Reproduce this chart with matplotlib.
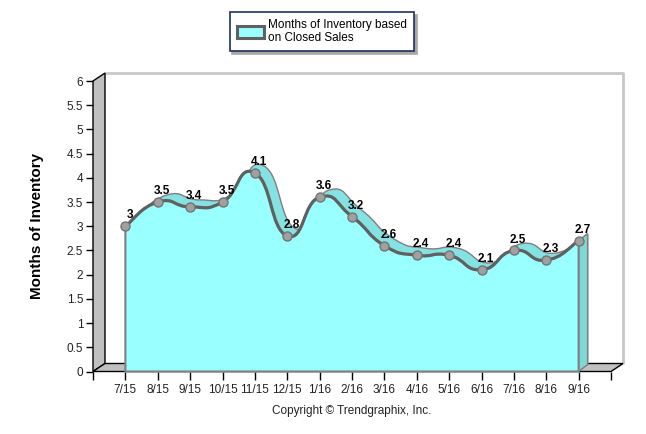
import matplotlib
matplotlib.use('Agg')
import matplotlib.pyplot as plt
from matplotlib.patches import Polygon, PathPatch, Patch
from matplotlib.path import Path

# Data
months = ['7/15', '8/15', '9/15', '10/15', '11/15', '12/15', '1/16', '2/16',
          '3/16', '4/16', '5/16', '6/16', '7/16', '8/16', '9/16']
inventory = [3, 3.5, 3.4, 3.5, 4.1, 2.8, 3.6, 3.2, 2.6, 2.4, 2.4, 2.1, 2.5, 2.3, 2.7]
y_ticks = [0, 0.5, 1, 1.5, 2, 2.5, 3, 3.5, 4, 4.5, 5, 5.5, 6]
y_tick_labels = ['0', '0.5', '1', '1.5', '2', '2.5', '3', '3.5', '4', '4.5', '5', '5.5', '6']

DPI = 100
W, H = 646, 434
# plot box of the front plane, in pixels
LEFT, RIGHT, TOP, BOTTOM = 93, 611, 81, 371.5
WALL_DX, WALL_DY = 12, 8
SERIES_DX, SERIES_DY = 9, 7
TENSION = 0.8

FRONT = '#99FFFF'
TOP_FACE = '#84E2E2'
SIDE_FACE = '#7DD8D8'

plt.rcParams['font.family'] = ['Liberation Sans', 'DejaVu Sans']


def spline_verts(xs, ys, tension):
    """Cardinal spline through the points, as bezier vertices and codes."""
    n = len(xs)
    verts = [(xs[0], ys[0])]
    codes = [Path.MOVETO]
    k = tension / 3.0
    for i in range(n - 1):
        i0, i3 = max(i - 1, 0), min(i + 2, n - 1)
        c1 = (xs[i] + k * (xs[i + 1] - xs[i0]), ys[i] + k * (ys[i + 1] - ys[i0]))
        c2 = (xs[i + 1] - k * (xs[i3] - xs[i]), ys[i + 1] - k * (ys[i3] - ys[i]))
        verts += [c1, c2, (xs[i + 1], ys[i + 1])]
        codes += [Path.CURVE4] * 3
    return verts, codes


def area_path(xs, ys, tension, dx=0.0, dy=0.0):
    """Closed area under the spline, shifted by dx, dy data units."""
    verts, codes = spline_verts(xs, ys, tension)
    verts = verts + [(xs[-1], 0), (xs[0], 0), (xs[0], ys[0])]
    codes = codes + [Path.LINETO, Path.LINETO, Path.CLOSEPOLY]
    verts = [(vx + dx, vy + dy) for vx, vy in verts]
    return Path(verts, codes)


fig = plt.figure(figsize=(W / DPI, H / DPI), dpi=DPI)
ax = fig.add_axes([LEFT / W, 1 - BOTTOM / H, (RIGHT - LEFT) / W, (BOTTOM - TOP) / H])
ax.set_xlim(-1, len(months))
ax.set_ylim(0, 6)
ax.patch.set_visible(False)
for s in ax.spines.values():
    s.set_visible(False)

# pixel offsets to data units
px_x = (RIGHT - LEFT) / (len(months) + 1)
px_y = (BOTTOM - TOP) / 6.0
wdx, wdy = WALL_DX / px_x, WALL_DY / px_y
sdx, sdy = SERIES_DX / px_x, SERIES_DY / px_y
x0, x1 = -1, len(months)

# Back wall with light border
ax.add_patch(Polygon([(x0 + wdx, wdy), (x0 + wdx, 6 + wdy), (x1 + wdx, 6 + wdy), (x1 + wdx, wdy)],
                     facecolor='white', edgecolor='none', zorder=0.5, clip_on=False))
ax.plot([x0 + wdx, x1 + wdx, x1 + wdx], [6 + wdy, 6 + wdy, wdy], color='#C8C8C8', lw=2,
        zorder=0.6, clip_on=False, solid_capstyle='butt')

# Left wall and floor
ax.add_patch(Polygon([(x0, 0), (x0, 6), (x0 + wdx, 6 + wdy), (x0 + wdx, wdy)],
                     facecolor='#C0C0C0', edgecolor='black', lw=1, zorder=1, clip_on=False))
ax.add_patch(Polygon([(x0, 0), (x1, 0), (x1 + wdx, wdy), (x0 + wdx, wdy)],
                     facecolor='#C0C0C0', edgecolor='black', lw=1, zorder=1, clip_on=False))

xs = list(range(len(months)))

# Series: back face shows as the top surface
ax.add_patch(PathPatch(area_path(xs, inventory, TENSION, sdx, sdy), facecolor=TOP_FACE,
                       edgecolor='#808080', lw=1, zorder=2, clip_on=False))
# right side face
ax.add_patch(Polygon([(xs[-1], 0), (xs[-1], inventory[-1]), (xs[-1] + sdx, inventory[-1] + sdy),
                      (xs[-1] + sdx, sdy)], facecolor=SIDE_FACE, edgecolor='#808080', lw=1,
                     zorder=2.1, clip_on=False))
# front face
ax.add_patch(PathPatch(area_path(xs, inventory, TENSION), facecolor=FRONT,
                       edgecolor='#808080', lw=1.5, zorder=3, clip_on=False))
# spline line
verts, codes = spline_verts(xs, inventory, TENSION)
ax.add_patch(PathPatch(Path(verts, codes), facecolor='none', edgecolor='#606060',
                       lw=2.3, zorder=4, clip_on=False))

# Markers and value labels
ax.plot(xs, inventory, 'o', ms=6.5, mfc='#A0A0A0', mec='#747474', mew=1, zorder=5, clip_on=False)
for x, v in zip(xs, inventory):
    ax.annotate('{:g}'.format(v), (x, v), xytext=(3, 3.5), textcoords='offset points',
                ha='center', va='bottom', fontsize=8.5, fontweight='bold', color='black', zorder=6)

# Axes ticks
ax.set_yticks(y_ticks)
ax.set_yticklabels(y_tick_labels)
ax.set_xticks(range(-1, len(months) + 1))
ax.set_xticklabels([''] + months + [''])
ax.tick_params(axis='y', length=5, width=1, color='black', labelsize=8.5, labelcolor='#222222', pad=2)
ax.tick_params(axis='x', length=6, width=1, color='black', labelsize=8.5, labelcolor='#222222', pad=3)

# Axis title
fig.text(37 / W, 1 - 226 / H, 'Months of Inventory', rotation=90, ha='center', va='center',
         fontsize=11, fontweight='bold')

# Legend
leg = fig.legend(handles=[Patch(facecolor=FRONT, edgecolor='#606060', linewidth=2.2,
                                label='Months of Inventory based\non Closed Sales')],
                 loc='center', bbox_to_anchor=(322 / W, 1 - 31.5 / H), frameon=True,
                 fancybox=False, shadow={'color': '#A8A8A8', 'alpha': 1}, fontsize=8.5,
                 handlelength=2.3, handleheight=1.1, handletextpad=0.4, borderpad=0.6)
leg.get_frame().set_edgecolor('#1F2F5F')
leg.get_frame().set_linewidth(1.2)
for t in leg.get_texts():
    t.set_linespacing(1.05)

# Copyright
fig.text(352 / W, 1 - 411 / H, 'Copyright \u00a9 Trendgraphix, Inc.', ha='center', va='center',
         fontsize=8.5, color='#222222')

fig.savefig('out.png', dpi=DPI)
